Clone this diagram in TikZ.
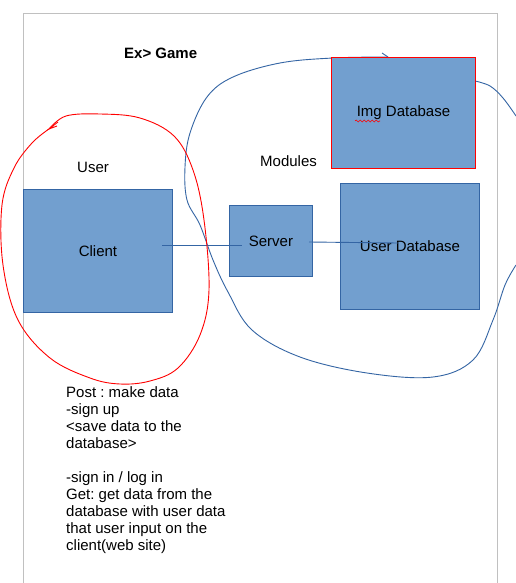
\documentclass[tikz,border=0pt]{standalone}
\usepackage{fontspec}
\setmainfont{Liberation Sans}
\usetikzlibrary{decorations.pathmorphing}
\definecolor{boxfill}{HTML}{729FCF}
\definecolor{boxline}{HTML}{3465A4}
\definecolor{pageline}{HTML}{C0C0C0}
\frenchspacing
\begin{document}
\begin{tikzpicture}[x=1pt,y=-1pt,
  every node/.style={font=\fontsize{15}{17}\selectfont, inner sep=0pt},
  box/.style={draw=boxline, fill=boxfill, line width=0.9pt, anchor=north west},
  conn/.style={draw=boxline, line width=0.9pt},
  loopred/.style={draw=red, line width=0.9pt},
  loopblue/.style={draw=boxline, line width=0.9pt}]
\useasboundingbox (0,0) rectangle (515,583);
\fill[white] (0,0) rectangle (515,583);
% page
\draw[pageline, line width=1pt] (23,583) -- (23,14) -- (497,14) -- (497,583);
% blue loop (behind boxes)
\draw[loopblue] (382,53) -- (388,57);
\draw[loopblue] plot[smooth, tension=0.6] coordinates {(388,57) (333,58) (280,63) (233,77) (207,97) (190,133) (185,167) (187,200) (200,225) (213,260) (228,292) (252,330) (300,357) (367,373) (433,377) (473,360) (493,320) (505,285) (516,265)};
\draw[loopblue] plot[smooth, tension=0.6] coordinates {(475,81) (490,86) (503,98) (516,116)};
% boxes
\node[box, draw=red, minimum width=144pt, minimum height=111pt] (imgdb) at (331,57) {};
\node at (imgdb.center) (imgtxt) {Img Database};
\node[box, minimum width=139pt, minimum height=126pt] (userdb) at (340,183) {};
\node at (userdb.center) {User Database};
\node[box, minimum width=83pt, minimum height=71pt] (server) at (229,205) {};
\node at (server.center) {Server};
\node[box, minimum width=149pt, minimum height=123pt] (client) at (23,189) {};
\node at (client.center) {Client};
% wavy underline
\draw[red, line width=0.6pt, decorate, decoration={snake, amplitude=1pt, segment length=4pt}] (355,121) -- (380,121);
% connectors
\coordinate (c1) at (162,245);
\coordinate (s1) at (242,245);
\coordinate (s2) at (309,242);
\coordinate (u1) at (398,243);
\draw[conn] (c1) -- (s1);
\draw[conn] (s2) -- (u1);
% labels
\node[anchor=base west, font=\fontsize{15}{17}\selectfont\bfseries] (title) at (124,59) {Ex> Game};
\node[anchor=base west] (user) at (77,172) {User};
\node[anchor=base west] (modules) at (260,166) {Modules};
\node[anchor=base west, align=left] (notes) at (66,550) {Post : make data\\-sign up\\<save data to the\\database>\\[17pt]-sign in / log in\\Get: get data from the\\database with user data\\that user input on the\\client(web site)};
% red loop
\draw[loopred] (58,122) -- (49,129) -- (57,126);
\draw[loopred] plot[smooth, tension=0.6] coordinates {(49,129) (66,116) (100,114) (140,118) (174,136) (193,170) (204,220) (209,290) (200,335) (178,368) (150,381) (120,384) (90,378) (50,358) (18,320) (3,265) (2,205) (14,168) (32,143) (49,129)};
\end{tikzpicture}
\end{document}
